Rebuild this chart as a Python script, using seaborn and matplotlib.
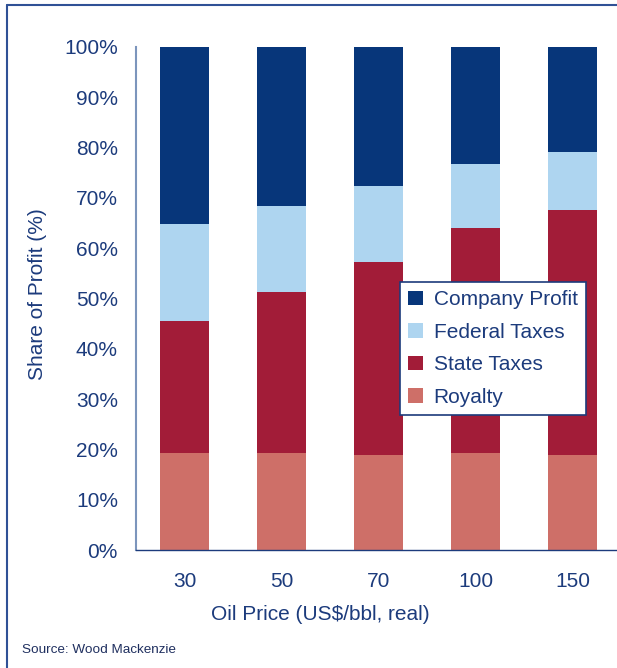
import numpy as np
import pandas as pd
import matplotlib
matplotlib.use("Agg")
import matplotlib.pyplot as plt
from matplotlib.lines import Line2D
import seaborn as sns

# ---------------------------------------------------------
# 데이터 (그림에서 읽은 값, 단위 %)
# ---------------------------------------------------------
oil_price = ["30", "50", "70", "100", "150"]
royalty = [19.2, 19.2, 18.8, 19.2, 18.8]
state_taxes = [26.3, 32.1, 38.5, 44.8, 48.8]
federal_taxes = [19.3, 17.1, 15.1, 12.7, 11.5]
company_profit = [35.2, 31.6, 27.6, 23.3, 20.9]

series_names = ["Company Profit", "Federal Taxes", "State Taxes", "Royalty"]
colors = {"Company Profit": "#07367A", "Federal Taxes": "#AED5F0",
          "State Taxes": "#A21C38", "Royalty": "#CE6F68"}

df = pd.DataFrame({"price": oil_price, "Royalty": royalty, "State Taxes": state_taxes,
                   "Federal Taxes": federal_taxes, "Company Profit": company_profit})

# 누적 높이 (아래에서 위로)
df["top_Royalty"] = df["Royalty"]
df["top_State Taxes"] = df["top_Royalty"] + df["State Taxes"]
df["top_Federal Taxes"] = df["top_State Taxes"] + df["Federal Taxes"]
df["top_Company Profit"] = df["top_Federal Taxes"] + df["Company Profit"]

sns.set_style("white")
plt.rcParams["font.family"] = ["Liberation Sans", "DejaVu Sans"]
text_color = "#1C3B7C"

fig = plt.figure(figsize=(6.17, 6.68), dpi=100)
ax = fig.add_axes([136 / 617, 118 / 668, 485 / 617, 503 / 668])

# 큰 값부터 겹쳐 그려서 누적 막대 만들기
for name in series_names:
    sns.barplot(data=df, x="price", y="top_" + name, order=oil_price, color=colors[name],
                width=0.5, saturation=1, label=name, ax=ax, edgecolor="none", linewidth=0)

ax.set_xlim(-0.5, 4.5)
ax.set_ylim(0, 100)
ax.set_yticks(np.arange(0, 101, 10))
ax.set_yticklabels([f"{v}%" for v in range(0, 101, 10)])

# x축: 눈금은 범주 경계, 라벨은 가운데
ax.set_xticks(np.arange(-0.5, 5, 1))
ax.set_xticklabels([])
ax.set_xticks(np.arange(5), minor=True)
ax.set_xticklabels(oil_price, minor=True)
ax.tick_params(axis="x", which="major", direction="out", length=5, width=1, color="#7C95BC")
ax.tick_params(axis="x", which="minor", length=0, pad=16, labelsize=15, labelcolor=text_color)
ax.tick_params(axis="y", direction="out", length=5, width=1, color="#7C95BC", pad=8,
               labelsize=15, labelcolor=text_color)

for s in ["top", "right"]:
    ax.spines[s].set_visible(False)
ax.spines["left"].set_color("#7C95BC")
ax.spines["left"].set_linewidth(1.5)
ax.spines["bottom"].set_color("#1C3B7C")
ax.spines["bottom"].set_linewidth(1)

ax.set_xlabel("")
ax.set_ylabel("")
fig.text(38 / 617, 1 - 294 / 668, "Share of Profit (%)", rotation=90, ha="center", va="center",
         fontsize=15, color=text_color)
fig.text(320 / 617, 1 - 615 / 668, "Oil Price (US$/bbl, real)", ha="center", va="center",
         fontsize=15, color=text_color)
fig.text(22 / 617, 1 - 650 / 668, "Source: Wood Mackenzie", ha="left", va="center",
         fontsize=9.7, color="#1F2F5F")

leg = ax.legend(loc="upper left", bbox_to_anchor=(0.544, 0.533), borderaxespad=0,
                fontsize=15, frameon=True, fancybox=False, framealpha=1,
                handlelength=0.72, handleheight=0.72,
                handletextpad=0.5, labelspacing=0.65, borderpad=0.4)
leg.get_frame().set_edgecolor("#1C3B7C")
leg.get_frame().set_linewidth(1.2)
for t in leg.get_texts():
    t.set_color(text_color)

# 바깥 테두리 (왼쪽, 위쪽)
fig.add_artist(Line2D([7 / 617, 7 / 617], [0, 1 - 5 / 668], transform=fig.transFigure,
                      color="#2F5196", linewidth=1.5))
fig.add_artist(Line2D([7 / 617, 1], [1 - 5 / 668, 1 - 5 / 668], transform=fig.transFigure,
                      color="#2F5196", linewidth=1.5))

fig.savefig("out.png", dpi=100)
